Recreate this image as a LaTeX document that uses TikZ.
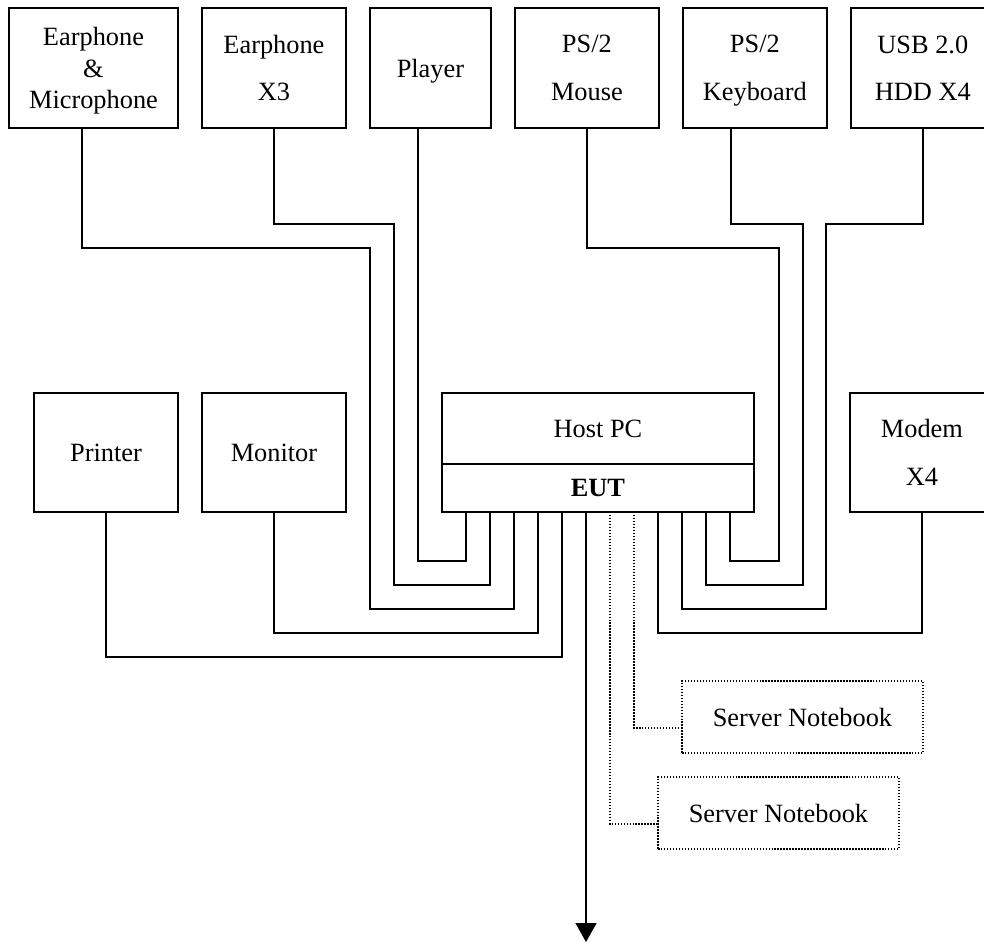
\documentclass[tikz,border=0pt]{standalone}
\usepackage{fontspec}
\setmainfont{Liberation Serif}
\usetikzlibrary{positioning,calc,arrows.meta}

\begin{document}
\begin{tikzpicture}[x=0.02cm,y=-0.02cm]
	\tikzset{dev box/.style={draw, line width=0.85pt, inner sep=0pt, outer sep=0pt, align=center, text depth=0pt, font=\fontsize{15}{27}\selectfont, minimum width=2.88cm, minimum height=2.4cm},
		link/.style={line width=0.85pt},
		lan link/.style={line width=0.85pt, dash pattern=on 0.85pt off 0.85pt}}
	\useasboundingbox (0,0) rectangle (984,943);
	\clip (0,0) rectangle (984,943);
	% top row
	\node[dev box, anchor=north west, minimum width=3.38cm, font=\fontsize{15}{18}\selectfont] (em) at (9,8) {Earphone\\\&\\Microphone};
	\node[dev box, right=0.48cm of em] (ex) {Earphone\\X3};
	\node[dev box, right=0.48cm of ex, minimum width=2.42cm] (pl) {Player};
	\node[dev box, right=0.48cm of pl] (ms) {PS/2\\Mouse};
	\node[dev box, right=0.48cm of ms] (kb) {PS/2\\Keyboard};
	\node[dev box, right=0.48cm of kb] (usb) {USB 2.0\\HDD X4};
	% middle row
	\node[dev box, anchor=north west, minimum height=2.38cm] (pr) at (34,393) {Printer};
	\node[dev box, right=0.48cm of pr, minimum height=2.38cm] (mo) {Monitor};
	\node[dev box, anchor=north west, minimum width=6.24cm, minimum height=1.42cm] (host) at (442,393) {Host PC};
	\node[dev box, below=0cm of host, minimum width=6.24cm, minimum height=0.96cm, font=\fontsize{15}{27}\selectfont\bfseries] (eut) {EUT};
	\node[dev box, right=1.92cm of host.north east, anchor=north west, minimum height=2.38cm] (mdm) {Modem\\X4};
	% notebooks
	\node[dev box, lan link, anchor=north west, minimum width=4.82cm, minimum height=1.44cm] (sn1) at (682,681) {Server Notebook};
	\node[dev box, lan link, anchor=north west, minimum width=4.82cm, minimum height=1.44cm] (sn2) at (658,777) {Server Notebook};
	% ports of the EUT
	\foreach \i in {1,...,12}
		\coordinate (p\i) at ($(eut.south west)+(24*\i,0)$);
	\coordinate (net) at (586,942);
	% cables
	\draw[link] ($(pl.south)+(-12.5,0)$) |- ($(p1)+(0,49)$) -- (p1);
	\draw[link] (ex.south) |- (394,224) |- ($(p2)+(0,73)$) -- (p2);
	\draw[link] ($(em.south)+(-11.5,0)$) |- (370,248) |- ($(p3)+(0,97)$) -- (p3);
	\draw[link] (mo.south) |- ($(p4)+(0,121)$) -- (p4);
	\draw[link] (pr.south) |- ($(p5)+(0,145)$) -- (p5);
	\draw[link, -{Triangle[width=0.42cm, length=0.38cm]}] (p6) -- (net);
	\draw[lan link] (p7) |- ($(sn2.west)+(0,11)$);
	\draw[lan link] (p8) |- ($(sn1.west)+(0,11)$);
	\draw[link] (mdm.south) |- ($(p9)+(0,121)$) -- (p9);
	\draw[link] (usb.south) |- (826,224) |- ($(p10)+(0,97)$) -- (p10);
	\draw[link] ($(kb.south)+(-24,0)$) |- (803,224) |- ($(p11)+(0,73)$) -- (p11);
	\draw[link] (ms.south) |- (779,248) |- ($(p12)+(0,49)$) -- (p12);
\end{tikzpicture}
\end{document}
